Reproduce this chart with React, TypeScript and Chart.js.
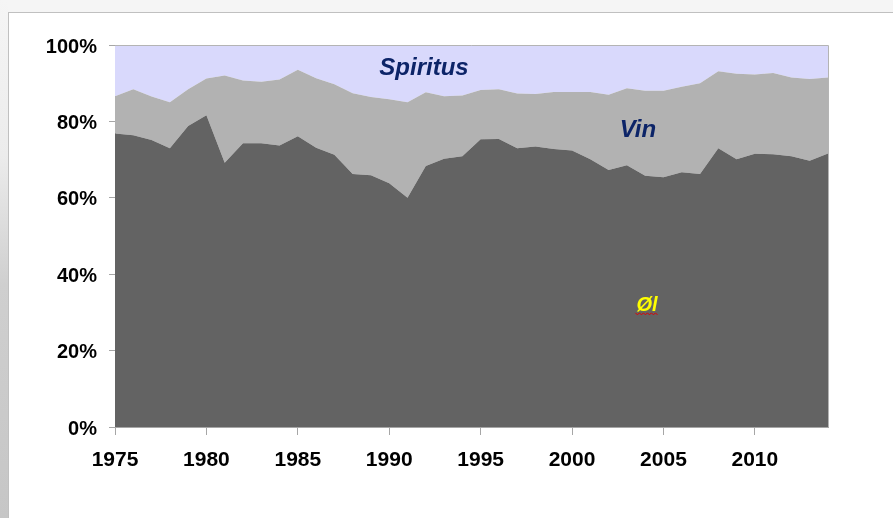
import React, { useEffect, useRef } from "react";
import { Chart, registerables } from "chart.js";

Chart.register(...registerables);

const years = [
  1975, 1976, 1977, 1978, 1979, 1980, 1981, 1982, 1983, 1984,
  1985, 1986, 1987, 1988, 1989, 1990, 1991, 1992, 1993, 1994,
  1995, 1996, 1997, 1998, 1999, 2000, 2001, 2002, 2003, 2004,
  2005, 2006, 2007, 2008, 2009, 2010, 2011, 2012, 2013, 2014,
];

// shares in percent
const ol = [
  76.8, 76.4, 75.1, 73.0, 78.8, 81.6, 69.2, 74.3, 74.3, 73.7,
  76.1, 73.1, 71.3, 66.2, 65.9, 63.8, 60.0, 68.3, 70.2, 70.9,
  75.3, 75.4, 73.0, 73.4, 72.8, 72.4, 70.1, 67.3, 68.5, 65.8,
  65.4, 66.7, 66.2, 73.0, 70.1, 71.5, 71.4, 70.9, 69.7, 71.6,
];
const vin = [
  9.8, 12.0, 11.4, 12.0, 9.6, 9.6, 22.8, 16.4, 16.1, 17.3,
  17.4, 18.2, 18.4, 21.2, 20.5, 22.0, 25.0, 19.3, 16.4, 15.9,
  12.9, 13.0, 14.3, 13.8, 14.9, 15.3, 17.6, 19.7, 20.2, 22.2,
  22.6, 22.4, 23.8, 20.1, 22.4, 20.8, 21.3, 20.6, 21.4, 19.9,
];
const spiritus = [
  13.4, 11.6, 13.5, 15.0, 11.6, 8.8, 8.0, 9.3, 9.6, 9.0,
  6.5, 8.7, 10.3, 12.6, 13.6, 14.2, 15.0, 12.4, 13.4, 13.2,
  11.8, 11.6, 12.7, 12.8, 12.3, 12.3, 12.3, 13.0, 11.3, 12.0,
  12.0, 10.9, 10.0, 6.9, 7.5, 7.7, 7.3, 8.5, 8.9, 8.5,
];

const seriesNames = ["Øl", "Vin", "Spiritus"];
const yTicks = [0, 20, 40, 60, 80, 100];
const xTicks = [1975, 1980, 1985, 1990, 1995, 2000, 2005, 2010];

// in-chart labels at data coordinates (year, percent at baseline)
const labelText = ["Spiritus", "Vin", "Øl"];
const labelYear = [1991.9, 2003.6, 2004.1];
const labelValue = [92.1, 75.9, 30.4];

const toPoints = (arr: number[]) => arr.map((v, i) => ({ x: years[i], y: v }));

export default function App() {
  const ref = useRef<HTMLCanvasElement | null>(null);

  useEffect(() => {
    if (!ref.current) return;
    const labelsPlugin = {
      id: "areaLabels",
      afterDatasetsDraw(chart: any) {
        const { ctx, scales, chartArea } = chart;
        ctx.save();
        // plot frame top/right
        ctx.strokeStyle = "#b4b4b4";
        ctx.lineWidth = 1;
        ctx.beginPath();
        ctx.moveTo(chartArea.left, chartArea.top + 0.5);
        ctx.lineTo(chartArea.right + 0.5, chartArea.top + 0.5);
        ctx.lineTo(chartArea.right + 0.5, chartArea.bottom);
        ctx.stroke();

        ctx.textAlign = "center";
        ctx.textBaseline = "alphabetic";
        for (let i = 0; i < labelText.length; i++) {
          const x = scales.x.getPixelForValue(labelYear[i]);
          const y = scales.y.getPixelForValue(labelValue[i]);
          if (labelText[i] === "Øl") {
            ctx.font = "italic bold 20px 'Liberation Sans', Arial, sans-serif";
            ctx.fillStyle = "#ffff00";
            ctx.fillText(labelText[i], x, y);
            const w = ctx.measureText(labelText[i]).width;
            ctx.strokeStyle = "#e00000";
            ctx.lineWidth = 1;
            ctx.beginPath();
            let up = true;
            const start = x - w / 2 - 1;
            for (let px = start; px <= x + w / 2 + 1; px += 2) {
              const py = y + (up ? 2 : 4);
              if (px === start) ctx.moveTo(px, py);
              else ctx.lineTo(px, py);
              up = !up;
            }
            ctx.stroke();
          } else {
            ctx.font = "italic bold 24px 'Liberation Sans', Arial, sans-serif";
            ctx.fillStyle = "#0c2468";
            ctx.fillText(labelText[i], x, y);
          }
        }
        ctx.restore();
      },
    };

    const chart = new Chart(ref.current, {
      type: "line",
      data: {
        datasets: [
          {
            label: seriesNames[0],
            data: toPoints(ol),
            backgroundColor: "#636363",
            borderWidth: 0,
            pointRadius: 0,
            fill: "origin",
          },
          {
            label: seriesNames[1],
            data: toPoints(vin),
            backgroundColor: "#b2b2b2",
            borderWidth: 0,
            pointRadius: 0,
            fill: "-1",
          },
          {
            label: seriesNames[2],
            data: toPoints(spiritus),
            backgroundColor: "#d9d9fc",
            borderWidth: 0,
            pointRadius: 0,
            fill: "-1",
          },
        ],
      },
      options: {
        animation: false,
        responsive: false,
        devicePixelRatio: 1,
        layout: { padding: { left: 0, right: 65, top: 45, bottom: 0 } },
        plugins: {
          legend: { display: false },
          tooltip: { enabled: false },
        },
        elements: { line: { tension: 0 } },
        scales: {
          x: {
            type: "linear",
            min: 1975,
            max: 2014,
            afterFit: (s: any) => {
              s.height = 91;
            },
            afterBuildTicks: (s: any) => {
              s.ticks = xTicks.map((v) => ({ value: v }));
            },
            ticks: {
              autoSkip: false,
              maxRotation: 0,
              padding: 13,
              color: "#000",
              font: { family: "'Liberation Sans', Arial, sans-serif", size: 21, weight: "bold" },
              callback: (v: any) => String(v),
            },
            grid: {
              drawOnChartArea: false,
              drawTicks: true,
              tickLength: 8,
              color: "#a6a6a6",
            },
            border: { display: true, color: "#a6a6a6" },
          },
          y: {
            stacked: true,
            min: 0,
            max: 100,
            afterFit: (s: any) => {
              s.width = 115;
            },
            afterBuildTicks: (s: any) => {
              s.ticks = yTicks.map((v) => ({ value: v }));
            },
            ticks: {
              padding: 12,
              labelOffset: 2,
              color: "#000",
              font: { family: "'Liberation Sans', Arial, sans-serif", size: 20, weight: "bold" },
              callback: (v: any) => v + "%",
            },
            grid: {
              drawOnChartArea: false,
              drawTicks: true,
              tickLength: 6,
              color: "#a6a6a6",
            },
            border: { display: true, color: "#a6a6a6" },
          },
        },
      },
      plugins: [labelsPlugin],
    } as any);
    return () => chart.destroy();
  }, []);

  return (
    <div
      style={{
        position: "fixed",
        left: 0,
        top: 0,
        width: 893,
        height: 518,
        background: "#f5f5f5",
        overflow: "hidden",
      }}
    >
      <div
        style={{
          position: "absolute",
          left: 0,
          top: 0,
          width: 8,
          height: 518,
          background: "linear-gradient(to bottom, #f5f5f5 0%, #ececec 30%, #cfcfcf 55%, #c6c6c6 100%)",
        }}
      />
      <div
        style={{
          position: "absolute",
          left: 8,
          top: 12,
          width: 893,
          height: 518,
          background: "#ffffff",
          borderLeft: "1px solid #c0c0c0",
          borderTop: "1px solid #c0c0c0",
        }}
      />
      <canvas
        ref={ref}
        width={893}
        height={518}
        style={{ position: "absolute", left: 0, top: 0, width: 893, height: 518 }}
      />
    </div>
  );
}
